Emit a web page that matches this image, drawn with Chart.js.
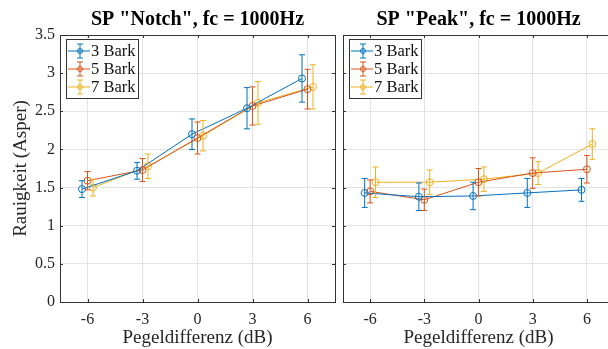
<!DOCTYPE html>
<html>
<head>
<meta charset="utf-8">
<script src="https://cdn.jsdelivr.net/npm/chart.js@4/dist/chart.umd.min.js"></script>
<style>
  html, body { margin: 0; padding: 0; background: #fff; overflow: hidden; width: 608px; height: 349px; }
  canvas { position: absolute; top: 0; }
  #notchChart { left: 0; }
  #peakChart { left: 338px; }
</style>
</head>
<body>
<canvas id="notchChart" width="340" height="349"></canvas>
<canvas id="peakChart" width="281" height="349"></canvas>
<script>
/* ===== Rauigkeit vs. Pegeldifferenz ===== */

const xTicks = [-6, -3, 0, 3, 6];
const yTicks = [0, 0.5, 1, 1.5, 2, 2.5, 3, 3.5];
const seriesLabels = ['3 Bark', '5 Bark', '7 Bark'];

// SP "Notch"
const notch3 = [1.48, 1.72, 2.20, 2.54, 2.93];
const notch3Err = [0.11, 0.11, 0.20, 0.27, 0.31];
const notch5 = [1.59, 1.73, 2.15, 2.57, 2.79];
const notch5Err = [0.12, 0.15, 0.21, 0.25, 0.26];
const notch7 = [1.50, 1.78, 2.18, 2.61, 2.82];
const notch7Err = [0.11, 0.16, 0.20, 0.28, 0.29];

// SP "Peak"
const peak3 = [1.43, 1.38, 1.39, 1.43, 1.47];
const peak3Err = [0.19, 0.18, 0.18, 0.19, 0.15];
const peak5 = [1.45, 1.34, 1.57, 1.69, 1.74];
const peak5Err = [0.15, 0.14, 0.18, 0.20, 0.18];
const peak7 = [1.57, 1.57, 1.61, 1.69, 2.07];
const peak7Err = [0.20, 0.16, 0.16, 0.15, 0.20];

const colors = ['#0072BD', '#D95319', '#EDB120'];
const jitter = [-0.3, 0, 0.3];
const SERIF = '"Liberation Serif", "DejaVu Serif", serif';

function makeDatasets(values, errs) {
  return values.map((vals, s) => ({
    label: seriesLabels[s],
    data: vals.map((v, i) => ({ x: xTicks[i] + jitter[s], y: v })),
    err: errs[s],
    showLine: true,
    borderColor: colors[s],
    backgroundColor: 'rgba(0,0,0,0)',
    borderWidth: 1,
    pointRadius: 3.5,
    pointBorderWidth: 1,
    pointBackgroundColor: 'rgba(0,0,0,0)',
    pointBorderColor: colors[s]
  }));
}

// error bars, frame, inward ticks, legend box
const matlabPlugin = {
  id: 'matlab',
  afterDatasetsDraw(chart) {
    const { ctx, scales: { x, y } } = chart;
    ctx.save();
    ctx.lineWidth = 1;
    chart.data.datasets.forEach(ds => {
      ctx.strokeStyle = ds.borderColor;
      ds.data.forEach((p, i) => {
        const px = x.getPixelForValue(p.x);
        const top = y.getPixelForValue(p.y + ds.err[i]);
        const bot = y.getPixelForValue(p.y - ds.err[i]);
        ctx.beginPath();
        ctx.moveTo(px, top); ctx.lineTo(px, bot);
        ctx.moveTo(px - 3, top); ctx.lineTo(px + 3, top);
        ctx.moveTo(px - 3, bot); ctx.lineTo(px + 3, bot);
        ctx.stroke();
      });
    });
    ctx.restore();
  },
  afterDraw(chart) {
    const { ctx, chartArea: a, scales: { x, y } } = chart;
    ctx.save();
    ctx.strokeStyle = '#333';
    ctx.lineWidth = 1;
    ctx.beginPath();
    xTicks.forEach(t => {
      const px = Math.round(x.getPixelForValue(t)) + 0.5;
      ctx.moveTo(px, a.bottom); ctx.lineTo(px, a.bottom - 3);
      ctx.moveTo(px, a.top); ctx.lineTo(px, a.top + 3);
    });
    yTicks.forEach(t => {
      const py = Math.round(y.getPixelForValue(t)) + 0.5;
      ctx.moveTo(a.left, py); ctx.lineTo(a.left + 3, py);
      ctx.moveTo(a.right, py); ctx.lineTo(a.right - 3, py);
    });
    ctx.stroke();
    ctx.strokeRect(Math.round(a.left) + 0.5, Math.round(a.top) + 0.5,
      Math.round(a.right - a.left), Math.round(a.bottom - a.top));

    // legend
    const lx = Math.round(a.left) + 6, ly = Math.round(a.top) + 4;
    ctx.fillStyle = '#fff';
    ctx.fillRect(lx, ly, 72, 59);
    ctx.strokeStyle = '#333';
    ctx.strokeRect(lx + 0.5, ly + 0.5, 72, 59);
    ctx.font = '16.5px ' + SERIF;
    ctx.textBaseline = 'middle';
    chart.data.datasets.forEach((ds, s) => {
      const ry = ly + 12 + s * 18;
      const cx = lx + 14;
      ctx.strokeStyle = ds.borderColor;
      ctx.beginPath();
      ctx.moveTo(lx + 2, ry); ctx.lineTo(lx + 24, ry);
      ctx.moveTo(cx, ry - 7); ctx.lineTo(cx, ry + 7);
      ctx.moveTo(cx - 3, ry - 7); ctx.lineTo(cx + 3, ry - 7);
      ctx.moveTo(cx - 3, ry + 7); ctx.lineTo(cx + 3, ry + 7);
      ctx.stroke();
      ctx.beginPath();
      ctx.arc(cx, ry, 2.5, 0, Math.PI * 2);
      ctx.stroke();
      ctx.fillStyle = '#111';
      ctx.fillText(ds.label, lx + 25, ry + 1);
    });
    ctx.restore();
  }
};

function makeChart(id, title, values, errs, showY) {
  return new Chart(document.getElementById(id), {
    type: 'scatter',
    data: { datasets: makeDatasets(values, errs) },
    plugins: [matlabPlugin],
    options: {
      responsive: false,
      animation: false,
      layout: { padding: { left: showY ? 10 : 0, right: showY ? 3 : 0, top: 0, bottom: 0 } },
      plugins: {
        legend: { display: false },
        tooltip: { enabled: false },
        title: {
          display: true,
          text: title,
          fullSize: false,
          color: '#000',
          font: { family: SERIF, size: 20, weight: 'bold' },
          padding: { top: 8, bottom: 3 }
        }
      },
      scales: {
        x: {
          type: 'linear',
          min: -7.5,
          max: 7.5,
          afterBuildTicks: sc => { sc.ticks = xTicks.map(v => ({ value: v })); },
          afterFit: sc => { sc.height = 47; },
          grid: { color: '#e3e3e3', drawTicks: false },
          border: { display: false },
          ticks: { color: '#262626', padding: 8, font: { family: SERIF, size: 16 }, callback: v => String(v) },
          title: {
            display: true,
            text: 'Pegeldifferenz (dB)',
            color: '#262626',
            font: { family: SERIF, size: 19 },
            padding: { top: 0, bottom: 0 }
          }
        },
        y: {
          type: 'linear',
          min: 0,
          max: 3.5,
          afterBuildTicks: sc => { sc.ticks = yTicks.map(v => ({ value: v })); },
          afterFit: sc => { sc.width = showY ? 50 : 4; },
          grid: { color: '#e3e3e3', drawTicks: false },
          border: { display: false },
          ticks: { display: showY, color: '#262626', padding: 5, font: { family: SERIF, size: 16 }, callback: v => String(v) },
          title: {
            display: showY,
            text: 'Rauigkeit (Asper)',
            color: '#262626',
            font: { family: SERIF, size: 19 },
            padding: { top: 0, bottom: 0 }
          }
        }
      }
    }
  });
}

makeChart('notchChart', 'SP "Notch", fc = 1000Hz',
  [notch3, notch5, notch7], [notch3Err, notch5Err, notch7Err], true);
makeChart('peakChart', 'SP "Peak", fc = 1000Hz',
  [peak3, peak5, peak7], [peak3Err, peak5Err, peak7Err], false);
</script>
</body>
</html>
